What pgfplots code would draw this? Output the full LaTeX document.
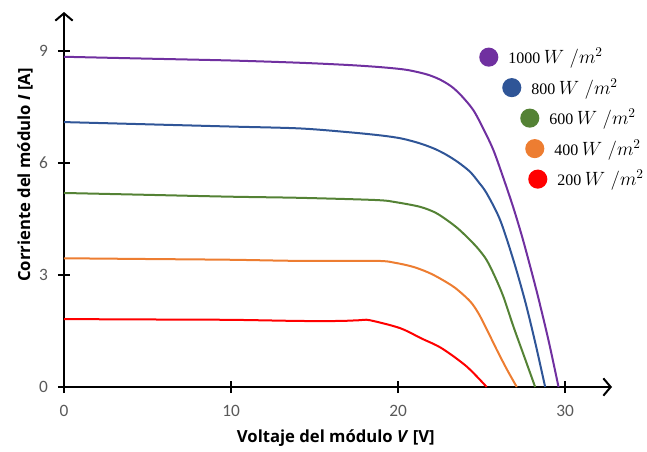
\documentclass[border=0pt]{standalone}
\usepackage{pgfplots}
\pgfplotsset{compat=1.18}
\usepackage{fontspec}
\setmainfont{Carlito}
\newfontfamily\labfont{Open Sans}
\newfontfamily\serifnum{Liberation Serif}
\usetikzlibrary{arrows.meta}
\definecolor{cpurple}{RGB}{112,48,160}
\definecolor{cblue}{RGB}{47,85,151}
\definecolor{cgreen}{RGB}{84,130,53}
\definecolor{corange}{RGB}{237,125,49}
\definecolor{cred}{RGB}{255,0,0}
\definecolor{tickgray}{RGB}{89,89,89}
\newcommand{\legimg}[1]{\pgfpathrectangle{\pgfpoint{0pt}{-6.4pt}}{\pgfpoint{12.8pt}{12.8pt}}\pgfusepath{use as bounding box}\begin{pgfinterruptboundingbox}\fill (0.15pt+#1,0) circle (6.4pt);\end{pgfinterruptboundingbox}}
\newcommand{\leg}[2]{\hspace{#1}{\serifnum #2} {\fontsize{14.5}{16}\selectfont$W\;/m^{2}$}}
\begin{document}
\begin{tikzpicture}
\begin{axis}[
  name=ax,
  scale only axis,
  width=411pt, height=281.25pt,
  xmin=0, xmax=32.8, ymin=0, ymax=10.05,
  axis lines=left,
  axis line style={line width=1.5pt, black, -{Straight Barb[length=5.5pt,width=13pt,line width=1.5pt]}},
  xtick={0,10,20,30}, ytick={0,3,6,9},
  tick align=center,
  major tick length=9pt,
  tick style={line width=1.5pt, black},
  /pgf/number format/assume math mode=true,
  ticklabel style={font=\fontsize{13}{15}\selectfont, text=tickgray},
  xticklabel style={yshift=-6pt},
  yticklabel style={xshift=-4pt},
  xlabel={\textbf{Voltaje del módulo \textit{V} [V]}},
  ylabel={\textbf{Corriente del módulo \textit{I} [A]}},
  label style={font=\labfont\fontsize{12.5}{14}\selectfont},
  xlabel style={at={(axis description cs:0.496,0)}, anchor=center, yshift=-38.25pt},
  ylabel style={at={(axis description cs:0,0.565)}, anchor=center, yshift=29.25pt},
  clip=false,
  legend style={draw=none, fill=none, at={(axis description cs:0.767,0.918)}, anchor=north west,
    font=\fontsize{12}{14}\selectfont, row sep=5.7pt, legend cell align=left},
  every axis plot/.append style={line width=1.5pt, smooth, tension=0.5},
]
\addplot[color=cpurple, legend image code/.code={\legimg{0pt}}] coordinates {
(0,8.85) (5,8.8) (10,8.75) (14.1,8.69) (17,8.63) (19,8.57) (20.5,8.5) (21.7,8.38)
(22.5,8.24) (23.2,8.05) (23.8,7.8) (24.5,7.42) (25.1,6.92) (25.7,6.35) (26.3,5.6)
(26.9,4.8) (27.5,3.9) (28.3,2.55) (29,1.25) (29.6,0)};
\addlegendentry{\leg{0pt}{1000}}
\addplot[color=cblue, legend image code/.code={\legimg{17.25pt}}] coordinates {
(0,7.1) (5,7.04) (10,6.98) (14.1,6.93) (17,6.83) (19,6.74) (20.2,6.66) (21.3,6.53)
(22.2,6.38) (22.9,6.22) (23.6,6.02) (24.3,5.77) (24.8,5.5) (25.3,5.19) (26.1,4.48)
(26.9,3.4) (27.6,2.3) (28.2,1.2) (28.8,0)};
\addlegendentry{\leg{17.25pt}{800}}
\addplot[color=cgreen, legend image code/.code={\legimg{30.75pt}}] coordinates {
(0,5.2) (5,5.15) (10,5.1) (14.1,5.07) (18.7,5.01) (19.9,4.95) (21.3,4.83) (22.2,4.68)
(22.9,4.48) (23.6,4.24) (24.3,3.94) (24.8,3.7) (25.3,3.4) (25.8,2.95) (26.3,2.42)
(26.9,1.62) (27.6,0.75) (28.2,0)};
\addlegendentry{\leg{30.75pt}{600}}
\addplot[color=corange, legend image code/.code={\legimg{34.5pt}}] coordinates {
(0,3.45) (5,3.43) (10,3.41) (14.1,3.38) (18.7,3.38) (19.8,3.33) (20.9,3.22) (21.8,3.07)
(22.5,2.91) (23.4,2.66) (24.3,2.3) (24.8,1.98) (25.3,1.55) (25.9,1.0) (26.5,0.48) (27.1,0)};
\addlegendentry{\leg{34.5pt}{400}}
\addplot[color=cred, legend image code/.code={\legimg{36.75pt}}] coordinates {
(0,1.82) (5,1.81) (10,1.8) (14.1,1.77) (16.5,1.77) (17.7,1.79) (18.3,1.79) (20.1,1.58)
(21.4,1.3) (22.6,1.04) (24.1,0.55) (25.3,0)};
\addlegendentry{\leg{36.75pt}{200}}
\end{axis}
\pgfresetboundingbox
\path ([shift={(-48pt,-48pt)}]ax.south west) rectangle ([shift={(437.25pt,290.25pt)}]ax.south west);
\end{tikzpicture}
\end{document}
